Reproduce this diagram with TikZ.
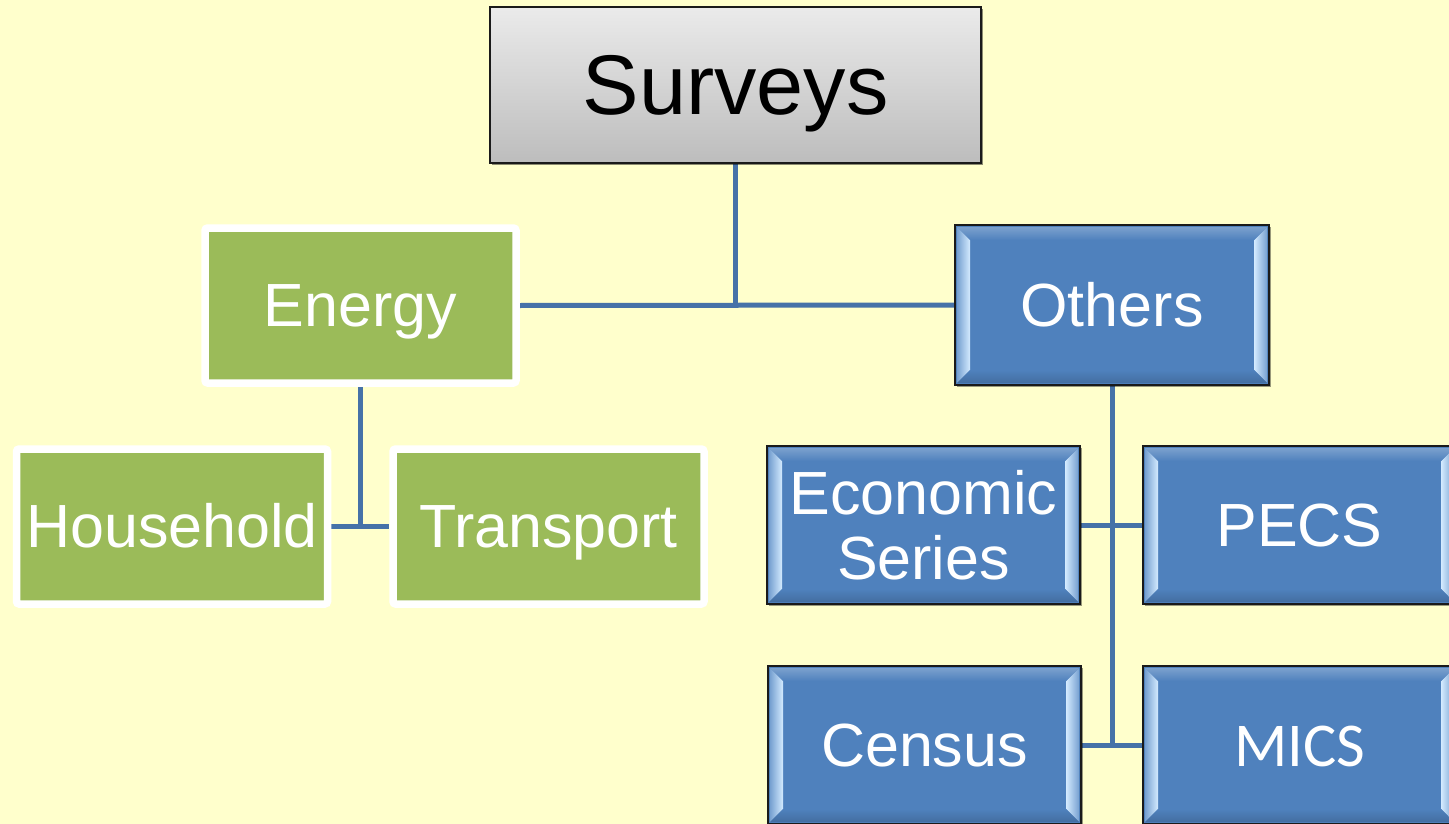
\documentclass[tikz,border=0pt]{standalone}
\usepackage{fontspec}
\setmainfont{Liberation Sans}
\newfontfamily\calibrifont{Carlito}
\usetikzlibrary{calc,shadows}
\definecolor{bgyellow}{HTML}{FFFFCC}
\definecolor{boxblue}{HTML}{4F81BD}
\definecolor{boxgreen}{HTML}{9BBB59}
\definecolor{linkblue}{HTML}{4672A8}
\definecolor{hl}{HTML}{D4EBFF}
\definecolor{darkedge}{HTML}{1A1A1A}
\newlength\pxu \setlength\pxu{0.02cm}
\pgfdeclarelayer{bglayer}
\pgfdeclarelayer{connlayer}
\pgfsetlayers{bglayer,connlayer,main}
\tikzset{
  txt/.style={font=\fontsize{34.7}{37}\selectfont, text=white, align=center, inner sep=0pt},
  oneline/.style={text height=31.4pt, text depth=7.4pt},
  topbox/.style={draw=darkedge, line width=1.6\pxu, top color=white!92!black, bottom color=white!74!black,
    minimum width=491\pxu, minimum height=156\pxu, inner sep=0pt,
    font=\fontsize{48.2}{50}\selectfont, text height=43.6pt, text depth=10.2pt,
    drop shadow={shadow xshift=1.2pt, shadow yshift=-1.2pt, opacity=0.45, fill=black}},
  greenbox/.style={txt, oneline, fill=boxgreen, draw=white, line width=7.5\pxu, rounded corners=1.5pt,
    minimum width=311\pxu, minimum height=155\pxu,
    drop shadow={shadow xshift=1pt, shadow yshift=-1.6pt, opacity=0.25, fill=black}},
  bluebox/.style={txt, fill=boxblue, draw=darkedge, line width=1.6\pxu,
    minimum width=313\pxu, minimum height=158\pxu,
    drop shadow={shadow xshift=1.2pt, shadow yshift=-1.2pt, opacity=0.4, fill=black},
    path picture={
      \coordinate (pnw) at (path picture bounding box.north west);
      \coordinate (pse) at (path picture bounding box.south east);
      \coordinate (psw) at (pnw |- pse);
      \coordinate (pne) at (pse |- pnw);
      \shade[left color=boxblue!70!hl, right color=hl]
        ($(pnw)+(2,2)$) -- ($(pnw)+(15,15)$) -- ($(psw)+(15,-15)$) -- ($(psw)+(2,-2)$) -- cycle;
      \shade[left color=hl, right color=boxblue!70!hl]
        ($(pne)+(-15,15)$) -- ($(pne)+(-2,2)$) -- ($(pse)+(-2,-2)$) -- ($(pse)+(-15,-15)$) -- cycle;
      \shade[top color=boxblue!75!white, bottom color=boxblue]
        ($(pnw)+(2,2)$) -- ($(pne)+(-2,2)$) -- ($(pne)+(-15,15)$) -- ($(pnw)+(15,15)$) -- cycle;
      \shade[top color=boxblue, bottom color=boxblue!85!black]
        ($(psw)+(15,-15)$) -- ($(pse)+(-15,-15)$) -- ($(pse)+(-2,-2)$) -- ($(psw)+(2,-2)$) -- cycle;
    }},
  link/.style={draw=linkblue, line width=5\pxu}
}
\begin{document}
\begin{tikzpicture}[x=0.02cm, y=-0.02cm]
\clip (0,0) rectangle (1449,824);
\begin{pgfonlayer}{bglayer}
  \fill[bgyellow] (0,0) rectangle (1449,824);
\end{pgfonlayer}

\node[topbox] (surveys) at (735.5,85) {Surveys};

\node[greenbox] (energy) at (360.5,305.5) {Energy};
\node[greenbox] (household) at (172,526.5) {Household};
\node[greenbox] (transport) at (548.5,526.5) {Transport};

\node[bluebox, oneline, minimum width=314\pxu, minimum height=160\pxu] (others) at (1112,305) {Others};
\node[bluebox] (economic) at (923.5,525) {Economic\\Series};
\node[bluebox, oneline] (pecs) at (1299.5,525) {PECS};
\node[bluebox, oneline] (census) at (924.5,745) {Census};
\node[bluebox, oneline, font=\calibrifont\fontsize{35.5}{37}\selectfont] (mics) at (1299.5,745) {MICS};

\begin{pgfonlayer}{connlayer}
  \draw[link] (surveys.south) -- (surveys.south |- energy.east);
  \draw[link] (energy.east) -- (others.west);
  \draw[link] (energy.south) -- (energy.south |- household.east);
  \draw[link] (household.east) -- (transport.west);
  \draw[link] (others.south) -- (others.south |- census.east);
  \draw[link] (economic.east) -- (pecs.west);
  \draw[link] (census.east) -- (mics.west);
\end{pgfonlayer}
\end{tikzpicture}
\end{document}
